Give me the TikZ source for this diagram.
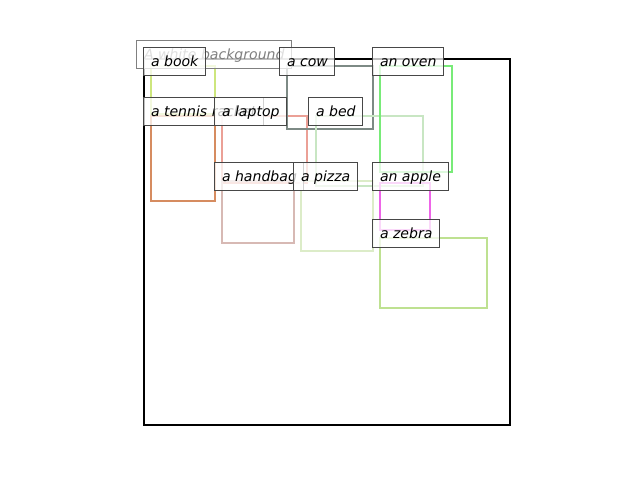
\documentclass[tikz,border=0pt]{standalone}
\usepackage{fontspec}
\setmainfont{DejaVu Sans}
\usepackage{tikz}

\definecolor{bookc}{RGB}{205,230,125}
\definecolor{tennisc}{RGB}{214,140,96}
\definecolor{laptopc}{RGB}{235,160,150}
\definecolor{handbagc}{RGB}{215,185,180}
\definecolor{cowc}{RGB}{125,138,133}
\definecolor{bedc}{RGB}{200,230,195}
\definecolor{ovenc}{RGB}{120,235,120}
\definecolor{pizzac}{RGB}{220,236,200}
\definecolor{applec}{RGB}{238,100,232}
\definecolor{zebrac}{RGB}{190,225,145}

\begin{document}
\begin{tikzpicture}[x=0.025cm,y=-0.025cm,
    objbox/.style={line width=1.7pt,#1},
    lbl/.style={anchor=text,draw=black!72,line width=0.7pt,fill=white,fill opacity=0.75,
      text opacity=1,font=\itshape,inner xsep=5pt,inner ysep=5pt,text height=8.5pt,text depth=1.4pt}]
      \useasboundingbox (0,0) rectangle (640,480);
      % white background frame
      \draw[line width=1.5pt] (144,59) rectangle (510,425);
      % object boxes
      \draw[objbox=bookc] (151,66) rectangle (215,114);
      \draw[objbox=tennisc] (151,116) rectangle (215,201);
      \draw[objbox=laptopc] (222,116) rectangle (307,183);
      \draw[objbox=handbagc] (222,181) rectangle (294,243);
      \draw[objbox=cowc,line width=2pt] (287,66) rectangle (373,129);
      \draw[objbox=bedc] (316,116) rectangle (423,186);
      \draw[objbox=ovenc] (380,66) rectangle (452,172);
      \draw[objbox=pizzac] (301,181) rectangle (373,251);
      \draw[objbox=applec] (380,183) rectangle (430,230);
      \draw[objbox=zebrac] (380,238) rectangle (487,308);
      % labels
      \node[lbl,draw=black!50,text=black!50](bg) at (144,59) {A white background};
      \node[lbl](book) at (151,66) {a book};
      \node[lbl](tennis) at (151,116) {a tennis racket};
      \node[lbl](laptop) at (222,116) {a laptop};
      \node[lbl](cow) at (287,66) {a cow};
      \node[lbl](bed) at (316,116) {a bed};
      \node[lbl](oven) at (380,66) {an oven};
      \node[lbl](handbag) at (222,181) {a handbag};
      \node[lbl](pizza) at (301,181) {a pizza};
      \node[lbl](apple) at (380,181) {an apple};
      \node[lbl](zebra) at (380,238) {a zebra};
\end{tikzpicture}
\end{document}
